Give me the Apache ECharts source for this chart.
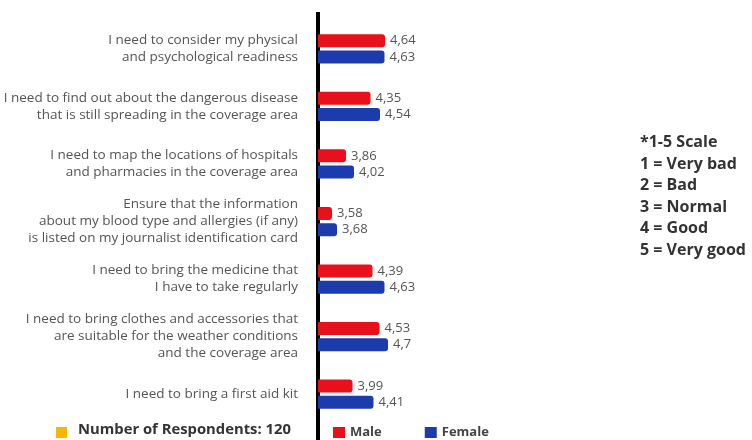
<!DOCTYPE html>
<html>
<head>
<meta charset="utf-8">
<script src="https://cdn.jsdelivr.net/npm/echarts@6/dist/echarts.min.js"></script>
<style>html,body{margin:0;padding:0;background:#fff}#c{width:752px;height:440px}</style>
</head>
<body>
<div id="c"></div>
<script>
const categories = [
  "I need to consider my physical\nand psychological readiness",
  "I need to find out about the dangerous disease\nthat is still spreading in the coverage area",
  "I need to map the locations of hospitals\nand pharmacies in the coverage area",
  "Ensure that the information\nabout my blood type and allergies (if any)\nis listed on my journalist identification card",
  "I need to bring the medicine that\nI have to take regularly",
  "I need to bring clothes and accessories that\nare suitable for the weather conditions\nand the coverage area",
  "I need to bring a first aid kit"
];
const male = [4.64, 4.35, 3.86, 3.58, 4.39, 4.53, 3.99];
const female = [4.63, 4.54, 4.02, 3.68, 4.63, 4.7, 4.41];
const seriesNames = ["Male", "Female"];
const scaleNotes = ["*1-5 Scale", "1 = Very bad", "2 = Bad", "3 = Normal", "4 = Good", "5 = Very good"];
const respondentsNote = "Number of Respondents: 120";

const FONT = "Open Sans";
const fmt = p => String(p.value).replace('.', ',');
const chart = echarts.init(document.getElementById('c'), null, {renderer: 'canvas'});
chart.setOption({
  animation: false,
  textStyle: {fontFamily: FONT},
  grid: {left: 318, top: 20, width: 350, height: 403, containLabel: false, outerBoundsMode: 'none'},
  xAxis: {type: 'value', min: 3.3, max: 10.3, show: false},
  yAxis: {
    type: 'category', data: categories, inverse: true,
    axisLine: {show: true, lineStyle: {color: '#000', width: 4}},
    axisTick: {show: false},
    axisLabel: {fontFamily: FONT, fontSize: 13.5, color: '#555', lineHeight: 17, margin: 20, align: 'right'}
  },
  legend: {
    data: seriesNames, left: 328, top: 421, itemWidth: 12, itemHeight: 11, itemGap: 43,
    icon: 'rect', textStyle: {fontFamily: FONT, fontSize: 13, fontWeight: 'bold', color: '#444'}
  },
  series: [
    {name: seriesNames[0], type: 'bar', data: male, barWidth: 13, barGap: '25%',
     itemStyle: {color: '#e8101a', borderRadius: [0, 3, 3, 0]},
     label: {show: true, position: 'right', distance: 5, formatter: fmt, fontFamily: FONT, fontSize: 13, color: '#555'}},
    {name: seriesNames[1], type: 'bar', data: female, barWidth: 13,
     itemStyle: {color: '#1c3cae', borderRadius: [0, 3, 3, 0]},
     label: {show: true, position: 'right', distance: 5, formatter: fmt, fontFamily: FONT, fontSize: 13, color: '#555'}}
  ],
  graphic: [
    {type: 'line', shape: {x1: 318, y1: 12, x2: 318, y2: 20}, style: {stroke: '#000', lineWidth: 4}},
    {type: 'line', shape: {x1: 318, y1: 423, x2: 318, y2: 440}, style: {stroke: '#000', lineWidth: 4}},
    {type: 'text', left: 640, top: 132, style: {text: scaleNotes.join('\n'), fontFamily: FONT, fontSize: 16, fontWeight: 'bold', fill: '#333', lineHeight: 21.5}},
    {type: 'rect', shape: {x: 56, y: 427, width: 11, height: 11}, style: {fill: '#f5b800'}},
    {type: 'text', left: 78, top: 422, style: {text: respondentsNote, fontFamily: FONT, fontSize: 14.8, fontWeight: 'bold', fill: '#333'}}
  ]
});
</script>
</body>
</html>
